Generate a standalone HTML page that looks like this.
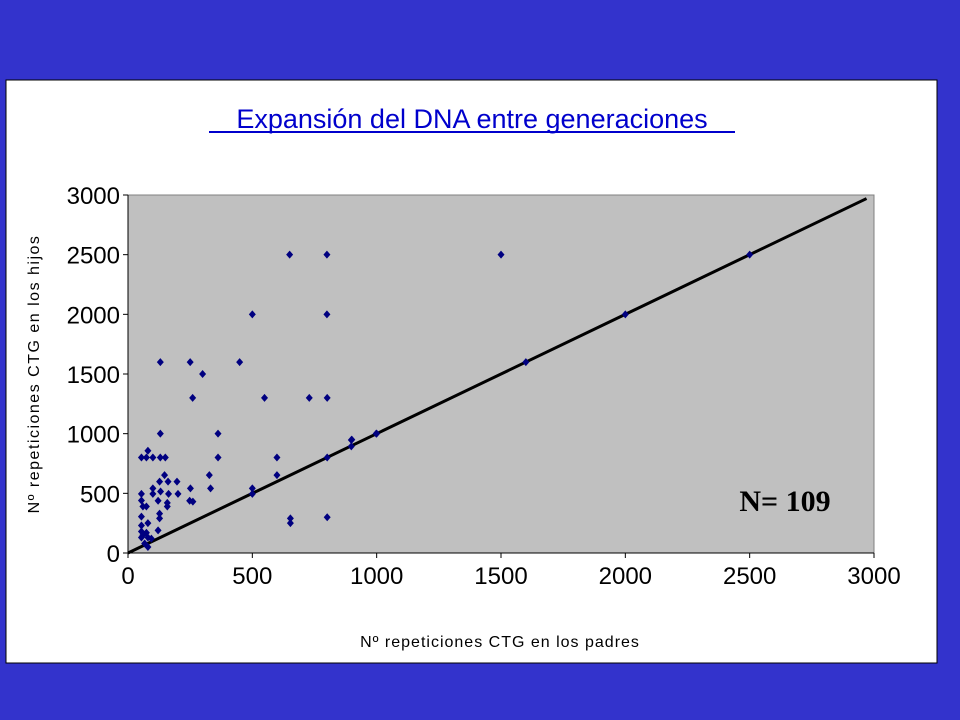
<!DOCTYPE html>
<html><head><meta charset="utf-8"><style>
body{margin:0;width:960px;height:720px;background:#3333cc;overflow:hidden;font-family:"Liberation Sans",sans-serif}
svg{position:absolute;left:0;top:0}
</style></head><body>
<svg width="960" height="720">
<rect x="6" y="80" width="931" height="583" fill="#fff" stroke="#000"/>
<text x="472" y="128" text-anchor="middle" font-size="27" fill="#0000cc" font-family="Liberation Sans, sans-serif">Expansión del DNA entre generaciones</text>
<line x1="209" y1="132" x2="735" y2="132" stroke="#0000cc" stroke-width="2"/>
<rect x="128" y="195" width="746" height="358" fill="#c0c0c0" stroke="#808080"/>
<g id="axes"></g>
<g id="marks"></g>
<text x="785" y="511" text-anchor="middle" font-size="30" font-weight="bold" font-family="Liberation Serif, serif">N= 109</text>
<text x="500" y="647" text-anchor="middle" font-size="16" letter-spacing="1">Nº repeticiones CTG en los padres</text>
<text transform="translate(39,374) rotate(-90)" text-anchor="middle" font-size="16" letter-spacing="1.5">Nº repeticiones CTG en los hijos</text>
</svg>
<script>
const xTicks=[0,500,1000,1500,2000,2500,3000];
const yTicks=[0,500,1000,1500,2000,2500,3000];
const xVals=[130,250,300,449,260,549,729,801,130,362,80,54,74,100,130,150,362,599,801,898,898,998,147,127,161,197,327,599,100,251,332,500,54,100,131,163,201,500,248,261,121,54,60,74,158,158,127,127,54,653,653,801,80,54,121,54,74,54,80,94,67,80,60,650,800,500,800,1500,2500,2000,1600,1000,900];
const yVals=[1600,1600,1500,1600,1300,1300,1300,1300,1000,1000,857,800,800,800,800,800,800,800,800,947,893,1000,653,598,598,598,653,653,542,542,542,542,495,495,515,495,495,495,438,430,438,440,390,390,420,390,330,290,305,290,250,300,250,230,190,180,170,130,130,120,80,50,150,2500,2500,2000,2000,2500,2500,2000,1600,1000,950];
const X0=128,X1=874,Y0=553,Y1=195;
const sx=v=>X0+(v-0)/3000*(X1-X0);
const sy=v=>Y0-(v-0)/3000*(Y0-Y1);
const NS="http://www.w3.org/2000/svg";
const axes=document.getElementById('axes'),marks=document.getElementById('marks');
function mk(t,a,p){const e=document.createElementNS(NS,t);for(const k in a)e.setAttribute(k,a[k]);p.appendChild(e);return e;}
let l=mk('line',{x1:X0,y1:Y1,x2:X0,y2:Y0,stroke:'#000'},axes);


l=mk('line',{x1:X0,y1:Y0,x2:X1,y2:Y0,stroke:'#000'},axes);


xTicks.forEach(v=>{const x=sx(v);mk('line',{x1:x,y1:Y0,x2:x,y2:Y0+5,stroke:'#000'},axes);
const t=mk('text',{x:x,y:Y0+31,'text-anchor':'middle','font-size':'24'},axes);t.textContent=v;

});
yTicks.forEach(v=>{const y=sy(v);mk('line',{x1:X0-5,y1:y,x2:X0,y2:y,stroke:'#000'},axes);
const t=mk('text',{x:X0-8,y:y+9,'text-anchor':'end','font-size':'24'},axes);t.textContent=v;

});
const ref=mk('line',{x1:sx(0),y1:sy(0),x2:sx(2970),y2:sy(2970),stroke:'#000','stroke-width':3},marks);


xVals.forEach((v,i)=>{const x=sx(v),y=sy(yVals[i]);
const p=mk('polygon',{points:`${x},${y-4} ${x+3.5},${y} ${x},${y+4} ${x-3.5},${y}`,fill:'#000080'},marks);

});
</script>
</body></html>
